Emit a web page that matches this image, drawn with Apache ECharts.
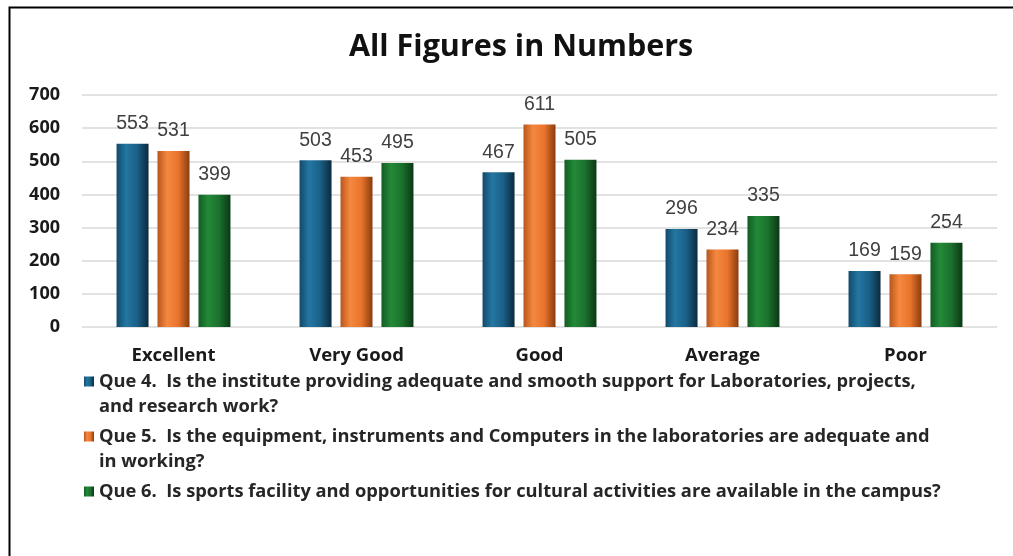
<!DOCTYPE html>
<html>
<head>
<meta charset="utf-8">
<script src="https://cdn.jsdelivr.net/npm/echarts@6/dist/echarts.min.js"></script>
<style>
html,body{margin:0;padding:0;background:#fff;}
#chart{width:1013px;height:556px;}
</style>
</head>
<body>
<div id="chart"></div>
<script>
const titleText = 'All Figures in Numbers';
const categories = ['Excellent', 'Very Good', 'Good', 'Average', 'Poor'];
const seriesNames = [
  'Que 4.  Is the institute providing adequate and smooth support for Laboratories, projects,\nand research work?',
  'Que 5.  Is the equipment, instruments and Computers in the laboratories are adequate and\nin working?',
  'Que 6.  Is sports facility and opportunities for cultural activities are available in the campus?'
];
const que4 = [553, 503, 467, 296, 169];
const que5 = [531, 453, 611, 234, 159];
const que6 = [399, 495, 505, 335, 254];
const yTicks = {min: 0, max: 700, interval: 100};

function cyl(dark, light, mid, edge) {
  return new echarts.graphic.LinearGradient(0, 0, 1, 0, [
    {offset: 0, color: dark},
    {offset: 0.3, color: light},
    {offset: 0.65, color: mid},
    {offset: 1, color: edge}
  ]);
}
const colors = [
  cyl('#124a6b', '#2477a3', '#1a5f86', '#0a2a3e'),
  cyl('#b8561c', '#f5883f', '#e9742c', '#8a3c0e'),
  cyl('#135c23', '#238a38', '#1b702d', '#0a3814')
];

const chart = echarts.init(document.getElementById('chart'), null, {renderer: 'canvas'});
const values = [que4, que5, que6];
const series = values.map((v, i) => ({
  name: seriesNames[i],
  type: 'bar',
  data: v,
  barWidth: 32,
  barGap: '28%',
  itemStyle: {color: colors[i]},
  label: {
    show: true,
    position: 'top',
    distance: 10,
    color: '#404040',
    fontFamily: 'Liberation Sans, Arial, sans-serif',
    fontSize: 19.5
  }
}));

// Align the legend icon with the first text line: pad each label to three lines
function legendFormatter(name) {
  return name.indexOf('\n') >= 0 ? '\n' + name : '\n' + name + '\n';
}

chart.setOption({
  backgroundColor: '#ffffff',
  animation: false,
  title: {
    text: titleText,
    left: 344,
    top: 27,
    textStyle: {fontFamily: 'Open Sans', fontWeight: 'bold', fontSize: 30.5, color: '#111'}
  },
  graphic: [{
    type: 'rect',
    left: 7, top: 5,
    shape: {width: 1100, height: 700},
    style: {fill: 'none', stroke: '#000', lineWidth: 2}
  }],
  grid: {left: 82, right: 16, top: 95, bottom: 229},
  legend: {
    orient: 'vertical',
    left: 84,
    top: 344,
    padding: 0,
    itemGap: -20,
    itemWidth: 10,
    itemHeight: 10,
    icon: 'rect',
    formatter: legendFormatter,
    textStyle: {fontFamily: 'Open Sans', fontWeight: 'bold', fontSize: 18.3, color: '#262626', lineHeight: 25},
    data: seriesNames
  },
  xAxis: {
    type: 'category',
    data: categories,
    axisLine: {show: false},
    axisTick: {show: false},
    axisLabel: {margin: 19, fontFamily: 'Open Sans', fontWeight: 'bold', fontSize: 18.5, color: '#1a1a1a'}
  },
  yAxis: {
    type: 'value',
    min: yTicks.min,
    max: yTicks.max,
    interval: yTicks.interval,
    axisLine: {show: false},
    axisTick: {show: false},
    axisLabel: {margin: 22, fontFamily: 'Open Sans', fontWeight: 'bold', fontSize: 18, color: '#1a1a1a'},
    splitLine: {lineStyle: {color: '#d9d9d9', width: 1.5}}
  },
  series: series
});
</script>
</body>
</html>
